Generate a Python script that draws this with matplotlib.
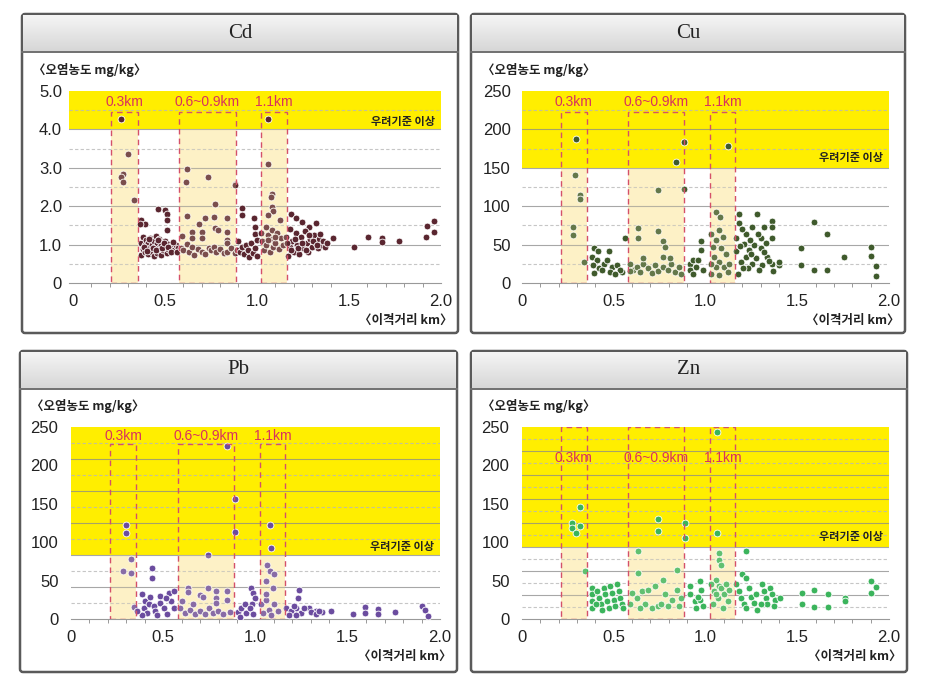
import numpy as np
import matplotlib
matplotlib.use('Agg')
import matplotlib.pyplot as plt
from matplotlib.patches import FancyBboxPatch, Rectangle
from matplotlib.colors import LinearSegmentedColormap

KR = ['Noto Sans CJK KR', 'DejaVu Sans']
NUM = ['Liberation Sans', 'DejaVu Sans']

# ---------- data ----------
elements = ['Cd', 'Cu', 'Pb', 'Zn']
y_max = [5.0, 250, 250, 250]
threshold = [4.0, 150, 83.3, 93.75]          # 우려기준 (yellow band from here up)
grid_step = [1.0, 50, 250 / 6, 31.25]
y_ticks = [[0, 1, 2, 3, 4, 5], [0, 50, 100, 150, 200, 250],
           [0, 50, 100, 150, 200, 250], [0, 50, 100, 150, 200, 250]]
y_tick_labels = [['0', '1.0', '2.0', '3.0', '4.0', '5.0'],
                 ['0', '50', '100', '150', '200', '250'],
                 ['0', '50', '100', '150', '200', '250'],
                 ['0', '50', '100', '150', '200', '250']]
x_ticks = [0, 0.5, 1.0, 1.5, 2.0]
x_tick_labels = ['0', '0.5', '1.0', '1.5', '2.0']

bands = [(0.21, 0.355), (0.578, 0.885), (1.022, 1.162)]
band_labels = ['0.3km', '0.6~0.9km', '1.1km']
band_top = [4.45, 223, 228, 250]
band_label_y = [4.72, 236, 238, 210]
warn_label_y = [4.2, 163, 95, 108]

cd_points = [
    (0.264, 4.26), (0.30, 3.36), (0.274, 2.85), (0.26, 2.77), (0.274, 2.63), (0.333, 2.16),
    (1.06, 4.26), (1.058, 3.10), (0.623, 2.96), (0.618, 2.63), (0.735, 2.77), (0.88, 2.59),
    (0.88, 2.55), (0.775, 2.05), (1.08, 2.33), (1.078, 2.24), (1.083, 1.97), (1.087, 1.88),
    (0.464, 1.92), (0.50, 1.90), (0.514, 1.79), (0.514, 1.65), (0.514, 1.39), (0.917, 1.95),
    (0.917, 1.77), (0.623, 1.75), (0.985, 1.70), (0.768, 1.72), (0.84, 1.70), (0.72, 1.70),
    (0.685, 1.53), (0.989, 1.46), (0.989, 1.27), (1.058, 1.77), (1.125, 1.65), (1.188, 1.79),
    (1.21, 1.70), (1.246, 1.59), (1.283, 1.46), (1.319, 1.57), (0.373, 1.63), (0.395, 1.53),
    (0.366, 1.53), (0.649, 1.33), (0.703, 1.33), (0.649, 1.18), (0.703, 1.18), (0.772, 1.42),
    (0.79, 1.37), (0.84, 1.33), (0.84, 1.13), (0.84, 1.03), (0.594, 1.22), (1.415, 1.17),
    (1.53, 0.94), (1.605, 1.20), (1.68, 1.17), (1.68, 1.07), (1.77, 1.09), (1.924, 1.48),
    (1.96, 1.61), (1.92, 1.20), (1.96, 1.33),
    (0.37, 1.05), (0.37, 0.72), (0.38, 1.20), (0.38, 0.88), (0.39, 1.00), (0.39, 0.80),
    (0.40, 1.12), (0.40, 0.95), (0.41, 1.05), (0.41, 0.75), (0.42, 0.92), (0.42, 1.18),
    (0.43, 1.00), (0.43, 0.82), (0.44, 1.10), (0.44, 0.70), (0.45, 0.95), (0.45, 1.22),
    (0.46, 1.05), (0.46, 0.78), (0.47, 0.90), (0.47, 1.15), (0.48, 1.00), (0.48, 0.72),
    (0.49, 0.85), (0.50, 1.10), (0.50, 0.95), (0.51, 0.78), (0.52, 1.02), (0.52, 0.88),
    (0.53, 0.92), (0.54, 0.98), (0.55, 0.85), (0.56, 1.00), (0.57, 0.90),
    (0.385, 0.93), (0.405, 0.84), (0.415, 1.15), (0.435, 0.90), (0.455, 0.86), (0.465, 1.12),
    (0.485, 0.92), (0.495, 1.04), (0.515, 0.95), (0.535, 0.82), (0.545, 1.06), (0.565, 0.80),
    (0.59, 0.92), (0.60, 0.85), (0.62, 1.02), (0.63, 0.80), (0.65, 0.95), (0.66, 0.72),
    (0.68, 0.88), (0.70, 0.80), (0.72, 0.75), (0.74, 0.92), (0.75, 0.85), (0.77, 0.95),
    (0.78, 0.80), (0.80, 0.88), (0.82, 0.78), (0.84, 0.82), (0.86, 0.90), (0.88, 0.78),
    (0.89, 0.85), (0.90, 1.10), (0.91, 0.80), (0.92, 0.95), (0.93, 0.75), (0.94, 1.00),
    (0.95, 0.85), (0.96, 0.68), (0.97, 1.05), (0.98, 0.78), (0.99, 0.92), (1.00, 0.70),
    (1.00, 1.12), (1.02, 1.30), (1.03, 1.10), (1.04, 0.85), (1.05, 1.45), (1.05, 1.00),
    (1.06, 1.25), (1.07, 0.80), (1.08, 1.15), (1.08, 1.38), (1.09, 0.95), (1.10, 1.05),
    (1.11, 1.30), (1.12, 0.88), (1.13, 1.18), (1.14, 1.00), (1.16, 1.20), (1.17, 0.70),
    (1.18, 1.40), (1.18, 0.95), (1.19, 1.10), (1.20, 0.80), (1.21, 1.30), (1.22, 1.00),
    (1.23, 0.75), (1.24, 1.20), (1.25, 0.90), (1.26, 1.35), (1.27, 1.05), (1.28, 0.80),
    (1.29, 1.15), (1.30, 0.95), (1.31, 1.25), (1.32, 1.05), (1.33, 0.90), (1.34, 1.15),
    (1.35, 1.00), (1.36, 1.10), (1.37, 0.95), (1.38, 1.05),
    (1.165, 1.05), (1.185, 0.85), (1.205, 1.15), (1.225, 0.90), (1.245, 1.05), (1.265, 0.85),
    (1.285, 1.25), (1.305, 1.10), (1.325, 0.98), (1.345, 1.28), (1.06, 1.12), (1.10, 1.20),
]

cu_points = [
    (0.292, 187), (0.288, 141), (0.314, 115), (0.317, 109), (0.276, 73), (0.276, 63),
    (0.34, 27), (0.841, 157), (0.883, 183), (0.883, 122), (0.739, 121), (0.739, 68),
    (1.124, 178), (0.631, 72), (0.631, 58), (0.559, 58), (0.766, 55), (0.778, 47),
    (0.973, 55), (0.973, 43), (1.058, 92), (1.08, 86),
    (1.184, 90), (1.283, 90), (1.364, 81), (1.364, 73), (1.319, 73), (1.256, 73),
    (1.22, 64), (1.166, 59), (1.30, 59), (1.364, 59), (1.21, 51), (1.265, 49),
    (1.166, 42), (1.238, 43), (1.30, 45), (1.22, 34), (1.274, 33), (1.337, 34),
    (1.193, 27), (1.256, 25), (1.31, 23), (1.364, 25), (1.40, 23), (1.368, 15),
    (1.229, 19), (1.29, 17), (1.175, 12), (1.40, 27),
    (1.18, 78), (1.20, 70), (1.24, 56), (1.285, 64), (1.33, 52), (1.19, 48),
    (1.25, 38), (1.32, 40), (1.205, 20), (1.345, 28),
    (1.523, 46), (1.523, 24), (1.589, 80), (1.589, 17), (1.661, 64), (1.661, 17),
    (1.755, 34), (1.90, 47), (1.90, 35), (1.928, 22), (1.928, 9),
    (0.391, 45), (0.413, 42), (0.382, 34), (0.41, 30), (0.386, 23), (0.418, 19),
    (0.391, 13), (0.445, 25), (0.472, 42), (0.463, 30), (0.49, 21), (0.481, 14),
    (0.517, 23), (0.544, 14), (0.532, 17), (0.508, 12), (0.436, 17),
    (0.589, 25), (0.607, 17), (0.625, 21), (0.643, 14), (0.661, 25), (0.661, 32),
    (0.688, 19), (0.706, 13), (0.724, 23), (0.742, 16), (0.769, 21), (0.769, 34),
    (0.796, 17), (0.814, 25), (0.832, 14), (0.856, 21), (0.869, 12), (0.805, 33),
    (0.589, 16),
    (0.914, 25), (0.931, 30), (0.949, 21), (0.958, 30), (0.914, 17), (0.986, 17),
    (0.931, 12),
    (1.031, 64), (1.076, 69), (1.058, 56), (1.094, 60), (1.04, 47), (1.085, 45),
    (1.112, 38), (1.049, 34), (1.076, 27), (1.103, 21), (1.058, 21), (1.13, 25),
    (1.121, 14), (1.031, 12), (1.076, 10), (1.031, 25),
]

pb_points = [
    (0.296, 122), (0.296, 112), (0.323, 78), (0.28, 62), (0.323, 60), (0.344, 16),
    (0.848, 225), (0.887, 156), (0.887, 113), (0.744, 83), (1.079, 122), (1.084, 93),
    (1.063, 70), (1.079, 62), (1.102, 58), (1.057, 49), (1.093, 40), (0.439, 67),
    (0.439, 53), (0.636, 41), (0.636, 35), (0.744, 40), (0.699, 31), (0.717, 28),
    (0.785, 36), (0.785, 27), (0.785, 21), (0.848, 36), (0.848, 25), (0.977, 40),
    (0.986, 34), (0.995, 27), (0.982, 19), (1.237, 38), (1.228, 27), (1.219, 14),
    (1.527, 7), (1.595, 16), (1.595, 8), (1.663, 13), (1.663, 6), (1.756, 9),
    (1.90, 17), (1.918, 12), (1.935, 4), (1.407, 11), (1.362, 9), (1.326, 10),
    (1.29, 14),
    (0.385, 32), (0.403, 23), (0.394, 14), (0.421, 19), (0.412, 8), (0.385, 5),
    (0.448, 17), (0.457, 10), (0.484, 30), (0.48, 21), (0.502, 14), (0.52, 6),
    (0.529, 34), (0.541, 24), (0.556, 36), (0.556, 14), (0.516, 27), (0.466, 5),
    (0.358, 11), (0.43, 28),
    (0.591, 14), (0.618, 8), (0.645, 12), (0.672, 7), (0.699, 10), (0.726, 6),
    (0.749, 14), (0.771, 8), (0.797, 11), (0.824, 6), (0.86, 9), (0.60, 23),
    (0.663, 19),
    (0.905, 9), (0.923, 14), (0.941, 19), (0.95, 8), (0.968, 14), (0.986, 6),
    (0.914, 3),
    (1.03, 19), (1.057, 25), (1.075, 12), (1.102, 19), (1.039, 8), (1.084, 5),
    (1.12, 10), (1.057, 32),
    (1.165, 14), (1.192, 10), (1.21, 17), (1.246, 8), (1.263, 14), (1.299, 9),
    (1.326, 6), (1.183, 5), (1.219, 5), (1.344, 10),
]

zn_points = [
    (0.275, 125), (0.27, 119), (0.293, 112), (0.317, 121), (0.317, 146), (0.342, 63),
    (0.743, 130), (0.743, 114), (0.887, 125), (0.887, 106), (1.063, 243), (1.063, 112),
    (1.076, 86), (1.076, 77), (1.085, 70), (0.63, 88), (0.63, 60), (0.842, 64),
    (0.77, 51), (1.219, 89), (1.201, 58), (1.219, 53), (1.058, 51), (1.076, 43),
    (1.525, 34), (1.525, 19), (1.594, 38), (1.594, 16), (1.665, 32), (1.665, 16),
    (1.759, 27), (1.759, 23), (1.903, 50), (1.93, 42), (1.903, 34),
    (0.383, 40), (0.383, 32), (0.383, 23), (0.383, 14), (0.41, 36), (0.419, 27),
    (0.428, 19), (0.446, 40), (0.455, 32), (0.464, 23), (0.473, 14), (0.482, 43),
    (0.491, 34), (0.50, 25), (0.509, 17), (0.518, 45), (0.527, 36), (0.536, 27),
    (0.545, 19), (0.55, 14), (0.401, 19), (0.437, 12),
    (0.599, 34), (0.626, 27), (0.653, 36), (0.671, 19), (0.689, 38), (0.707, 14),
    (0.725, 43), (0.743, 17), (0.76, 19), (0.779, 32), (0.797, 17), (0.82, 25),
    (0.842, 38), (0.856, 17), (0.869, 27), (0.644, 14), (0.59, 19),
    (0.914, 43), (0.917, 32), (0.941, 23), (0.95, 14), (0.971, 49), (0.977, 38),
    (0.968, 25), (0.986, 17), (0.959, 29),
    (1.031, 45), (1.049, 36), (1.067, 27), (1.085, 40), (1.103, 32), (1.121, 23),
    (1.04, 19), (1.094, 14), (1.13, 38), (1.058, 32), (1.112, 45),
    (1.165, 45), (1.183, 36), (1.192, 27), (1.21, 19), (1.237, 40), (1.246, 29),
    (1.264, 21), (1.282, 12), (1.309, 45), (1.318, 36), (1.327, 27), (1.336, 19),
    (1.354, 40), (1.363, 32), (1.381, 25), (1.408, 27), (1.372, 17), (1.219, 14),
    (1.273, 32), (1.30, 19),
]

all_points = [cd_points, cu_points, pb_points, zn_points]

# ---------- layout / style ----------
W, H = 928, 682
dot_colors = ['#5a2630', '#3f5a2c', '#6b4c9f', '#3bb45c']
panel_px = [(22, 14, 458, 333, 52), (471, 14, 905, 333, 52),
            (20, 351, 457, 672, 389), (471, 351, 907, 672, 389)]
axes_px = [(69, 91, 441, 283), (522, 91, 889, 283),
           (71, 427, 440, 619), (522, 427, 889, 619)]
xlims = [(-0.02, 2.0), (0, 2.0), (0, 2.0), (0, 2.0)]
ylab_pad = [5, 8, 9, 9]

fig = plt.figure(figsize=(W / 100, H / 100), dpi=100)
bg = fig.add_axes([0, 0, 1, 1], zorder=-1)
head_cmap = LinearSegmentedColormap.from_list('head', ['#f5f5f5', '#d6d6d6'])
grad = np.linspace(0, 1, 64).reshape(-1, 1)
for (x0, y0, x1, y1, yh) in panel_px:
    bg.add_patch(FancyBboxPatch((x0, y0), x1 - x0, y1 - y0,
                                boxstyle='round,pad=0,rounding_size=3',
                                fc='white', ec='#5a5a5a', lw=1.8, zorder=1))
    bg.imshow(grad, extent=[x0 + 1, x1 - 1, yh, y0 + 1], cmap=head_cmap,
              aspect='auto', zorder=2)
    bg.plot([x0, x1], [yh, yh], color='#707070', lw=1.4, zorder=3)
bg.set_xlim(0, W)
bg.set_ylim(H, 0)
bg.axis('off')

for i, el in enumerate(elements):
    x0, y0, x1, y1, yh = panel_px[i]
    fig.text((x0 + x1) / 2 / W, 1 - (y0 + yh) / 2 / H, el, ha='center', va='center',
             fontsize=15, family=['Liberation Serif', 'DejaVu Serif'], color='#222')

    l, t, r, b = axes_px[i]
    ax = fig.add_axes([l / W, 1 - b / H, (r - l) / W, (b - t) / H])
    ymax = y_max[i]
    thr = threshold[i]

    # yellow band above the warning standard
    ax.axhspan(thr, ymax, color='#ffee00', zorder=1, lw=0)

    # distance bands: cream fill under, light cream veil over the dots
    for (a, c) in bands:
        ax.add_patch(Rectangle((a, 0), c - a, band_top[i], fc='#fdf1c6', ec='none', zorder=0.5))
        ax.add_patch(Rectangle((a, 0), c - a, min(band_top[i], thr), fc='#fdf1c6',
                               ec='none', alpha=0.2, zorder=4))
        ax.add_patch(Rectangle((a, 0), c - a, band_top[i], fc='none', ec='#d4506a',
                               lw=1.0, ls=(0, (4, 3)), zorder=5))

    # grid lines
    step = grid_step[i]
    k = 1
    while k * step < ymax - 1e-6:
        ax.axhline(k * step, color='#8a8a8a', lw=0.8, alpha=0.75, zorder=2)
        k += 1
    k = 0
    while (k + 0.5) * step < ymax:
        ax.axhline((k + 0.5) * step, color='#b8b8b8', lw=0.8, ls=(0, (3, 2)),
                   alpha=0.8, zorder=2)
        k += 1

    px = [p[0] for p in all_points[i]]
    py = [p[1] for p in all_points[i]]
    ax.scatter(px, py, s=24, color=dot_colors[i], edgecolors='white', linewidths=0.6,
               zorder=3)

    for (a, c), lab in zip(bands, band_labels):
        ax.text((a + c) / 2, band_label_y[i], lab, ha='center', va='center',
                fontsize=10, color='#d8325e', family=NUM, zorder=6)
    ax.text(1.965, warn_label_y[i], '우려기준 이상', ha='right', va='center',
            fontsize=8, fontweight='bold', color='#222', family=KR, zorder=6)

    ax.set_xlim(*xlims[i])
    ax.set_ylim(0, ymax)
    ax.set_xticks(x_ticks)
    ax.set_xticklabels(x_tick_labels, family=NUM, fontsize=12, color='#222')
    ax.set_xticks(np.arange(0, 2.0, 0.1), minor=True)
    ax.set_yticks(y_ticks[i])
    ax.set_yticklabels(y_tick_labels[i], family=NUM, fontsize=12, color='#222')
    ax.tick_params(axis='x', which='major', length=0, pad=8)
    ax.tick_params(axis='x', which='minor', length=3, color='#999', width=0.7)
    ax.tick_params(axis='y', length=0, pad=ylab_pad[i])
    for s in ['top', 'right', 'left']:
        ax.spines[s].set_visible(False)
    ax.spines['bottom'].set_color('#999')
    ax.spines['bottom'].set_linewidth(0.8)
    ax.patch.set_alpha(0)

    # axis captions
    fig.text((x0 + 11) / W, 1 - (t - 21) / H, '〈오염농도 mg/kg〉', ha='left', va='center',
             fontsize=9, fontweight='bold', family=KR, color='#222')
    fig.text((x1 - 5) / W, 1 - (b + 37) / H, '〈이격거리 km〉', ha='right', va='center',
             fontsize=9, fontweight='bold', family=KR, color='#222')

fig.savefig('out.png', dpi=100)
